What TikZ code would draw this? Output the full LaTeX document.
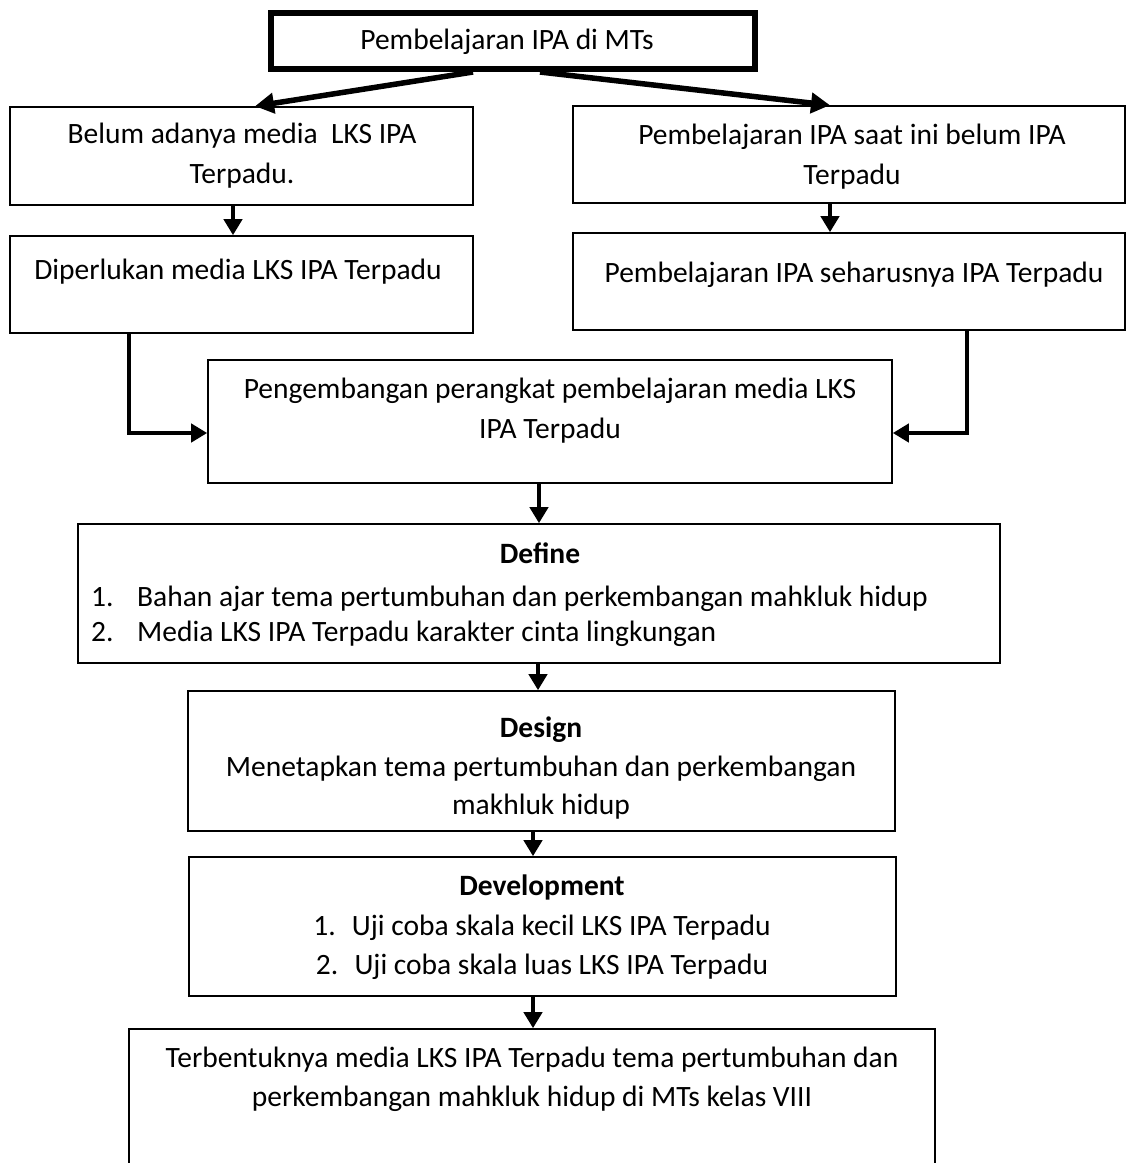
\documentclass[tikz,border=0pt]{standalone}
\usepackage{fontspec}
\setmainfont{Carlito}
\usetikzlibrary{arrows.meta}
\begin{document}
\begin{tikzpicture}[x=1pt,y=-1pt,
  box/.style={draw, rectangle, line width=1.6pt, inner sep=0pt},
  txt/.style={font=\fontsize{29.5}{40}\selectfont, align=center, inner sep=0pt},
  arr/.style={line width=4.5pt, -{Triangle[length=16pt,width=18pt]}},
  bigarr/.style={line width=5.5pt, -{Triangle[length=19pt,width=20pt]}}]
\useasboundingbox (0,0) rectangle (1129,1163);
% boxes
\node[box, line width=6pt, minimum width=484pt, minimum height=56pt] (top) at (513,41) {};
\node[box, minimum width=463pt, minimum height=98pt] (lb1) at (241.5,156) {};
\node[box, minimum width=552pt, minimum height=97pt] (rb1) at (849,154.5) {};
\node[box, minimum width=463pt, minimum height=97pt] (lb2) at (241.5,284.5) {};
\node[box, minimum width=552pt, minimum height=97pt] (rb2) at (849,281.5) {};
\node[box, minimum width=684pt, minimum height=123pt] (mid) at (550,421.5) {};
\node[box, minimum width=922pt, minimum height=139pt] (def) at (539,593.5) {};
\node[box, minimum width=707pt, minimum height=140pt] (des) at (541.5,761) {};
\node[box, minimum width=707pt, minimum height=139pt] (dev) at (542.5,926.5) {};
\node[box, minimum width=806pt, minimum height=171pt] (fin) at (532,1114.5) {};
% texts
\node[txt] (ttop) at (507,42) {Pembelajaran IPA di MTs};
\node[txt] (tlb1) at (242,156) {Belum adanya media~ LKS IPA\\Terpadu.};
\node[txt] (trb1) at (852,157) {Pembelajaran IPA saat ini belum IPA\\Terpadu};
\node[txt] (tlb2) at (238,272) {Diperlukan media LKS IPA Terpadu};
\node[txt] (trb2) at (854,275) {Pembelajaran IPA seharusnya IPA Terpadu};
\node[txt] (tmid) at (550,411) {Pengembangan perangkat pembelajaran media LKS\\IPA Terpadu};
\node[txt] (tdef) at (540,553) {\textbf{Define}};
\node[txt, anchor=base west] (tdef1) at (91,606) {\makebox[46pt][l]{1.}Bahan ajar tema pertumbuhan dan perkembangan mahkluk hidup};
\node[txt, anchor=base west] (tdef2) at (91,641) {\makebox[46pt][l]{2.}Media LKS IPA Terpadu karakter cinta lingkungan};
\node[txt, font=\fontsize{29.5}{38.5}\selectfont] (tdes) at (541,768.5) {\textbf{Design}\\Menetapkan tema pertumbuhan dan perkembangan\\makhluk hidup};
\node[txt, font=\fontsize{29.5}{39.5}\selectfont] (tdev) at (542,927.5) {\textbf{Development}\\1.\hspace{0.55em}Uji coba skala kecil LKS IPA Terpadu\\2.\hspace{0.55em}Uji coba skala luas LKS IPA Terpadu};
\node[txt, font=\fontsize{29.5}{39}\selectfont] (tfin) at (532,1079) {Terbentuknya media LKS IPA Terpadu tema pertumbuhan dan\\perkembangan mahkluk hidup di MTs kelas VIII};
% connectors
\draw[bigarr] ([xshift=-40pt]top.south) -- ([xshift=13.5pt]lb1.north);
\draw[bigarr] ([xshift=27pt]top.south) -- ([xshift=-19pt]rb1.north);
\draw[arr] ([xshift=-8.5pt]lb1.south) -- ([xshift=-8.5pt]lb2.north);
\draw[arr] ([xshift=-19pt]rb1.south) -- ([xshift=-19pt]rb2.north);
\draw[arr] ([xshift=-112.5pt]lb2.south) |- ([yshift=-11.5pt]mid.west);
\draw[arr] ([xshift=118pt]rb2.south) |- ([yshift=-11.5pt]mid.east);
\draw[arr] ([xshift=-11pt]mid.south) -- (def.north);
\draw[arr] ([xshift=-1pt]def.south) -- ([xshift=-3.5pt]des.north);
\draw[arr] ([xshift=-8.5pt]des.south) -- ([xshift=-9.5pt]dev.north);
\draw[arr] ([xshift=-9.5pt]dev.south) -- ([xshift=1pt]fin.north);
\end{tikzpicture}
\end{document}
